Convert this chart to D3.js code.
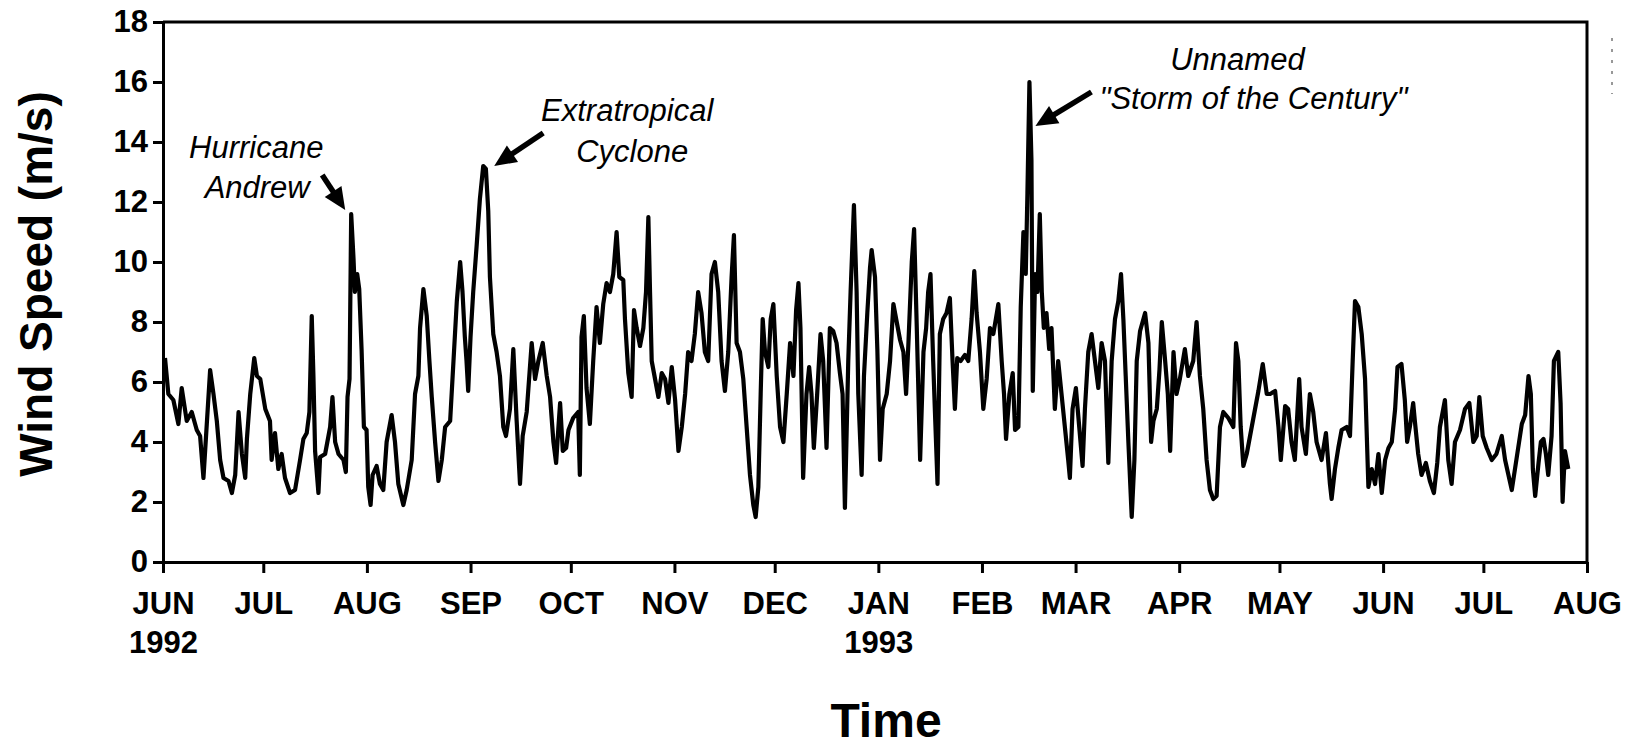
<!DOCTYPE html>
<html>
<head>
<meta charset="utf-8">
<script src="https://cdn.jsdelivr.net/npm/d3@7"></script>
<style>
    body { margin: 0; background: #fff; }
    svg { display: block; }
    .axis path, .axis line { stroke: #000; stroke-width: 3; }
    .axis text { font-family: Arial, "Liberation Sans", sans-serif; font-weight: bold; font-size: 31px; fill: #000; }
    .note { font-family: Arial, "Liberation Sans", sans-serif; font-style: italic; font-size: 31px; fill: #000; }
    .title { font-family: Arial, "Liberation Sans", sans-serif; font-weight: bold; fill: #000; }
</style>
</head>
<body>
<div id="chart"></div>
<script>
/*************************************************
    Data (days since 1 June 1992, wind speed m/s):
 *************************************************/
var dayOffset = [
    0.6, 1.6, 3.1, 4.6, 5.6, 7.1, 8.6, 10.1, 11.1, 12.1, 13.1, 14.1, 15.1, 16.1, 17.1, 18.1,
    19.6, 20.6, 21.6, 22.6, 23.6, 24.6, 25.1, 26.1, 27.3, 28.1, 29.1, 30.6, 32.0, 32.5, 33.5,
    34.5, 35.5, 36.5, 38.0, 39.5, 41.0, 42.0, 43.0, 43.8, 44.5, 45.0, 45.5, 46.5, 47.0, 48.5,
    50.0, 50.7, 51.5, 52.5, 54.0, 54.7, 55.2, 55.8, 56.3, 57.0, 57.4, 58.1, 58.7, 59.4, 60.1,
    60.9, 61.4, 62.1, 62.7, 63.9, 64.9,
    65.9, 66.9, 68.4, 69.4, 70.4, 71.9, 72.9, 74.4, 75.4, 76.4, 76.9, 77.9, 78.9, 79.7, 80.4,
    81.4, 82.4, 83.4, 84.4, 85.9, 86.9, 87.9, 88.9, 89.6, 90.3, 90.8, 91.3, 92.0, 92.8, 93.8,
    94.8, 95.8, 96.6, 97.3, 97.8, 98.8, 99.8, 100.8, 101.8, 102.6, 103.8, 104.8, 105.8, 106.8,
    107.6, 108.8, 110.3, 111.3, 112.3, 113.6, 114.8, 115.8, 116.8, 117.6, 118.3, 118.8, 119.6,
    120.6, 121.3, 122.7, 124.2, 124.7, 125.2, 125.9, 126.7, 127.7, 128.7, 129.7, 130.7, 131.7,
    132.7,
    133.7, 134.7, 135.7, 136.5, 137.7, 138.2, 139.2, 140.2, 140.9, 141.7, 142.7, 143.7, 144.5,
    145.2, 145.7, 146.2, 147.2, 148.2, 149.2, 150.2, 151.2, 152.2, 153.2, 154.2, 155.2, 156.2,
    157.1, 158.1, 159.1, 160.1, 161.1, 162.1, 163.1, 164.1, 165.1, 166.1, 167.1, 168.1, 169.1,
    170.1, 170.8, 171.6, 172.6, 173.6, 174.6, 175.6, 176.6, 177.3, 178.1, 178.8, 179.4, 180.1,
    181.1, 181.8, 182.6, 183.6, 184.6, 185.6, 186.6, 187.6, 188.6, 189.4, 190.1, 190.7, 191.5,
    192.5, 193.3, 194.0, 194.7, 195.7, 196.7, 197.5, 198.5, 199.5, 200.5, 201.5, 202.5,
    203.3, 204.0, 205.0, 205.7, 206.7, 207.5, 208.0, 209.0, 209.7, 210.7, 211.5, 212.0, 213.0,
    213.7, 214.5, 215.3, 216.5, 217.5, 218.5, 219.5, 220.5, 221.5, 222.3, 223.0, 224.0, 224.7,
    225.5, 226.5, 227.5, 228.3, 228.9, 229.6, 230.4, 230.9, 231.7, 232.4, 233.4, 234.4, 235.4,
    236.2, 236.9, 237.6, 238.6, 239.9, 240.9, 241.9, 242.7, 243.4, 244.4, 245.4, 246.4, 247.4,
    248.4, 249.9, 250.9, 251.6, 252.2, 253.2, 254.2, 254.9, 255.9, 256.6, 257.4, 258.1, 258.6,
    259.2, 259.8, 260.2, 260.9, 261.6, 262.3, 262.9, 263.5, 264.3, 265.1, 265.8, 266.8, 267.8,
    268.8, 269.8, 270.8,
    271.3, 272.1, 273.1, 274.1, 275.1, 275.8, 276.8, 277.8, 278.8, 279.8, 280.8, 281.8, 282.8,
    283.8, 284.8, 285.8, 286.6, 287.3, 288.0, 288.8, 289.8, 290.6, 291.3, 292.3, 293.8, 294.8,
    295.6, 296.3, 297.3, 298.1, 298.8, 299.8, 300.6, 301.3, 302.3, 303.2, 304.2, 305.7, 306.7,
    308.2, 309.2, 310.2, 311.2, 312.2, 313.2, 314.2, 315.2, 316.2, 317.2, 318.7, 320.2, 321.0,
    321.7, 322.4, 323.2, 324.2, 325.2, 326.7, 327.7, 329.0, 330.2, 331.2, 332.7, 333.7, 334.4,
    335.7, 336.6, 337.6, 338.6, 339.9, 340.6,
    341.9, 343.1, 344.1, 345.1, 346.6, 347.9, 349.1, 349.6, 350.6, 351.6, 352.6, 354.1, 355.1,
    355.9, 356.6, 357.6, 358.6, 359.6, 360.6, 361.6, 362.6, 363.6, 364.6, 365.6, 366.6, 367.6,
    368.6, 369.3, 370.5, 371.5, 372.2, 373.0, 374.0, 374.5, 375.5, 376.5, 377.8, 379.0, 380.2,
    381.2, 382.0, 383.5, 384.5, 385.5, 386.5, 388.0, 389.5, 390.8, 392.0, 393.0, 393.8, 394.8,
    396.0, 397.5, 398.9, 400.5, 401.5, 402.5, 403.5,
    405.0, 406.5, 407.5, 408.5, 409.2, 409.8, 410.5, 411.5, 412.2, 413.0, 413.7, 414.4, 415.4,
    416.1, 417.4, 418.1, 418.7, 419.4, 420.4
];

var windSpeed = [
    6.8, 5.6, 5.4, 4.6, 5.8, 4.7, 5.0, 4.4, 4.2, 2.8, 4.6, 6.4, 5.6, 4.7, 3.4, 2.8,
    2.7, 2.3, 2.9, 5.0, 3.6, 2.8, 4.1, 5.6, 6.8, 6.2, 6.1, 5.1, 4.7, 3.4, 4.3,
    3.1, 3.6, 2.8, 2.3, 2.4, 3.4, 4.1, 4.3, 5.0, 8.2, 6.2, 3.7, 2.3, 3.5, 3.6,
    4.5, 5.5, 4.0, 3.6, 3.4, 3.0, 5.5, 6.1, 11.6, 10.1, 9.0, 9.6, 9.1, 7.1, 4.5,
    4.4, 2.5, 1.9, 2.9, 3.2, 2.6,
    2.4, 4.0, 4.9, 4.0, 2.6, 1.9, 2.4, 3.4, 5.6, 6.2, 7.8, 9.1, 8.2, 6.7, 5.5,
    4.0, 2.7, 3.4, 4.5, 4.7, 6.7, 8.7, 10.0, 9.0, 7.5, 6.7, 5.7, 7.5, 9.0, 10.5,
    12.1, 13.2, 13.1, 11.7, 9.5, 7.6, 7.0, 6.2, 4.5, 4.2, 5.1, 7.1, 4.7, 2.6,
    4.2, 5.0, 7.3, 6.1, 6.7, 7.3, 6.2, 5.5, 4.0, 3.3, 4.5, 5.3, 3.7,
    3.8, 4.4, 4.8, 5.0, 2.9, 7.5, 8.2, 5.8, 4.6, 6.7, 8.5, 7.3, 8.6,
    9.3,
    9.0, 9.6, 11.0, 9.5, 9.4, 8.1, 6.3, 5.5, 8.4, 7.8, 7.2, 7.8, 9.0,
    11.5, 9.0, 6.7, 6.1, 5.5, 6.3, 6.1, 5.3, 6.5, 5.4, 3.7, 4.5, 5.6,
    7.0, 6.7, 7.6, 9.0, 8.3, 7.0, 6.7, 9.6, 10.0, 9.0, 6.7, 5.7, 7.0,
    9.5, 10.9, 7.3, 7.0, 6.1, 4.5, 2.9, 1.9, 1.5, 2.5, 5.6, 8.1, 7.0,
    6.5, 8.1, 8.6, 6.2, 4.5, 4.0, 5.6, 7.3, 6.2, 8.4, 9.3, 7.8, 2.8,
    5.6, 6.5, 5.6, 3.8, 5.6, 7.6, 6.7, 3.8, 7.8, 7.7, 7.3, 6.3,
    5.6, 1.8, 6.7, 9.0, 11.9, 9.0, 5.6, 2.9, 6.2, 8.3, 9.8, 10.4, 9.5,
    7.1, 3.4, 5.1, 5.6, 6.7, 8.6, 8.0, 7.4, 7.0, 5.6, 7.3, 10.0, 11.1,
    7.8, 3.4, 7.0, 7.8, 9.0, 9.6, 6.7, 5.1, 2.6, 7.6, 8.1, 8.3, 8.8,
    6.7, 5.1, 6.8, 6.7, 6.9, 6.7, 8.1, 9.7, 8.3, 7.0, 5.1, 6.1, 7.8,
    7.6, 8.6, 6.7, 5.6, 4.1, 5.6, 6.3, 4.4, 4.5, 8.5, 11.0, 9.6, 12.3,
    16.0, 13.4, 5.7, 9.6, 9.0, 11.6, 9.0, 7.8, 8.3, 7.1, 7.8, 5.1, 6.7,
    5.6, 4.5, 3.4,
    2.8, 5.1, 5.8, 4.5, 3.2, 5.1, 7.0, 7.6, 6.7, 5.8, 7.3, 6.7, 3.3,
    6.7, 8.1, 8.7, 9.6, 8.1, 6.2, 4.0, 1.5, 3.4, 6.7, 7.7, 8.3, 7.3,
    4.0, 4.7, 5.1, 6.4, 8.0, 6.7, 5.6, 3.7, 7.0, 5.6, 6.1, 7.1, 6.2,
    6.7, 8.0, 6.2, 5.1, 3.4, 2.4, 2.1, 2.2, 4.5, 5.0, 4.8, 4.5, 7.3,
    6.7, 4.5, 3.2, 3.6, 4.2, 5.1, 5.7, 6.6, 5.6, 5.6, 5.7, 4.5, 3.4,
    5.2, 5.1, 4.0, 3.4, 6.1, 4.5,
    3.6, 5.6, 5.0, 4.0, 3.4, 4.3, 2.6, 2.1, 3.1, 3.8, 4.4, 4.5, 4.2,
    6.7, 8.7, 8.5, 7.6, 6.1, 2.5, 3.1, 2.6, 3.6, 2.3, 3.4, 3.8, 4.0,
    5.1, 6.5, 6.6, 5.4, 4.0, 4.5, 5.3, 4.7, 3.6, 2.9, 3.3, 2.7, 2.3,
    3.3, 4.5, 5.4, 3.4, 2.6, 4.0, 4.4, 5.1, 5.3, 4.0, 4.2, 5.5, 4.2,
    3.8, 3.4, 3.6, 4.2, 3.4, 2.9, 2.4,
    3.5, 4.6, 4.9, 6.2, 5.6, 3.1, 2.2, 3.3, 4.0, 4.1, 3.6, 2.9, 4.2,
    6.7, 7.0, 5.3, 2.0, 3.7, 3.1
];

var monthLabels = ["JUN", "JUL", "AUG", "SEP", "OCT", "NOV", "DEC", "JAN",
                   "FEB", "MAR", "APR", "MAY", "JUN", "JUL", "AUG"];
var yearLabels = ["1992", "", "", "", "", "", "", "1993", "", "", "", "", "", "", ""];
var speedTicks = [0, 2, 4, 6, 8, 10, 12, 14, 16, 18];

// storm notes: search window (days) for the peak, text offsets from the peak
var notes = [
    { lines: ["Hurricane", "Andrew"], from: 50, to: 62,
      text: [[-95, -56], [-94, -16]], tail: [-29, -39], tip: [-6, -4] },
    { lines: ["Extratropical", "Cyclone"], from: 90, to: 100,
      text: [[144, -45], [149, -4]], tail: [60, -33], tip: [11, 0] },
    { lines: ["Unnamed", "\"Storm of the Century\""], from: 255, to: 262,
      text: [[208, -12], [224, 27]], tail: [62, 10], tip: [6, 44] }
];

/*************************************************
    Setup:
 *************************************************/
var width = 1635,
    height = 746;
var startDate = new Date(1992, 5, 1),
    endDate = new Date(1993, 7, 1);

function toDate(day) {
    return new Date(startDate.getTime() + day * 864e5);
}

var series = dayOffset.map(function(d, i) {
    return { day: d, date: toDate(d), v: windSpeed[i] };
});

var x = d3.scaleTime().domain([startDate, endDate]).range([163, 1587]);
var y = d3.scaleLinear().domain([0, 18]).range([562, 22]);

var svg = d3.select("#chart").append("svg")
    .attr("width", width)
    .attr("height", height);

/*************************************************
    Axes and frame:
 *************************************************/
var months = d3.timeMonth.range(startDate, d3.timeDay.offset(endDate, 1));

var xAxis = d3.axisBottom(x)
    .tickValues(months)
    .tickSize(11)
    .tickSizeOuter(0)
    .tickPadding(19)
    .tickFormat(function(d, i) { return monthLabels[i]; });

var gx = svg.append("g")
    .attr("class", "axis")
    .attr("transform", "translate(0," + y(0) + ")")
    .call(xAxis);

gx.selectAll(".tick").append("text")
    .attr("y", 91)
    .attr("text-anchor", "middle")
    .attr("fill", "#000")
    .text(function(d, i) { return yearLabels[i]; });

var yAxis = d3.axisLeft(y)
    .tickValues(speedTicks)
    .tickSize(10)
    .tickSizeOuter(0)
    .tickPadding(5);

svg.append("g")
    .attr("class", "axis")
    .attr("transform", "translate(" + x(startDate) + ",0)")
    .call(yAxis)
    .selectAll("text").attr("font-size", 30);

// top and right frame lines
svg.append("path")
    .attr("d", "M" + x(startDate) + "," + y(18) + "H" + x(endDate) + "V" + y(0))
    .attr("fill", "none")
    .attr("stroke", "#000")
    .attr("stroke-width", 3);

// faint scan marks outside the frame
svg.append("line")
    .attr("x1", 1612).attr("x2", 1612)
    .attr("y1", 38).attr("y2", 94)
    .attr("stroke", "#777")
    .attr("stroke-width", 1.5)
    .attr("stroke-dasharray", "3,8");

/*************************************************
    Series:
 *************************************************/
var line = d3.line()
    .x(function(d) { return x(d.date); })
    .y(function(d) { return y(d.v); });

svg.append("path")
    .datum(series)
    .attr("d", line)
    .attr("fill", "none")
    .attr("stroke", "#000")
    .attr("stroke-width", 4.2)
    .attr("stroke-linejoin", "round");

/*************************************************
    Storm notes:
 *************************************************/
notes.forEach(function(n) {
    var inWindow = series.filter(function(d) { return d.day >= n.from && d.day <= n.to; });
    var peak = d3.greatest(inWindow, function(d) { return d.v; });
    var px = x(peak.date),
        py = y(peak.v);

    n.lines.forEach(function(t, i) {
        svg.append("text")
            .attr("class", "note")
            .attr("x", px + n.text[i][0])
            .attr("y", py + n.text[i][1])
            .attr("text-anchor", "middle")
            .text(t);
    });

    var tx = px + n.tip[0], ty = py + n.tip[1],
        sx = px + n.tail[0], sy = py + n.tail[1];
    var len = Math.hypot(tx - sx, ty - sy),
        ux = (tx - sx) / len, uy = (ty - sy) / len;
    var head = 22, half = 10;
    var bx = tx - ux * head, by = ty - uy * head;

    svg.append("line")
        .attr("x1", sx).attr("y1", sy)
        .attr("x2", bx + ux * 2).attr("y2", by + uy * 2)
        .attr("stroke", "#000")
        .attr("stroke-width", 5.5);

    svg.append("path")
        .attr("d", "M" + tx + "," + ty +
            "L" + (bx - uy * half) + "," + (by + ux * half) +
            "L" + (bx + uy * half) + "," + (by - ux * half) + "Z")
        .attr("fill", "#000");
});

/*************************************************
    Titles:
 *************************************************/
svg.append("text")
    .attr("class", "title")
    .attr("font-size", 46)
    .attr("text-anchor", "middle")
    .attr("transform", "translate(52," + 284 + ") rotate(-90)")
    .text("Wind Speed (m/s)");

svg.append("text")
    .attr("class", "title")
    .attr("font-size", 48)
    .attr("text-anchor", "middle")
    .attr("x", 886)
    .attr("y", 737)
    .text("Time");
</script>
</body>
</html>
